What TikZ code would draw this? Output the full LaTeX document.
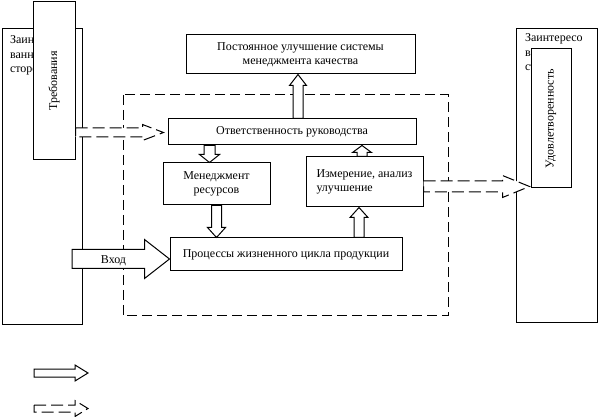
\documentclass[tikz,border=0pt]{standalone}
\usepackage{fontspec}
\setmainfont{Liberation Serif}
\usepackage{graphicx}
\usetikzlibrary{calc}

% block arrow: [style]{tail}{tip}{half shaft}{half head}{head length}
\newcommand{\blockarrow}[6][]{%
  \coordinate (ba-t) at (#2);
  \coordinate (ba-h) at (#3);
  \coordinate (ba-b) at ($(ba-h)!#6!(ba-t)$);
  \draw[arrowbody,#1]
    ($(ba-t)!#4!90:(ba-h)$) -- ($(ba-b)!#4!90:(ba-h)$) --
    ($(ba-b)!#5!90:(ba-h)$) -- (ba-h) --
    ($(ba-b)!#5!-90:(ba-h)$) -- ($(ba-b)!#4!-90:(ba-h)$) --
    ($(ba-t)!#4!-90:(ba-h)$) -- cycle;
}

\begin{document}
\begin{tikzpicture}[
  x=1pt, y=-1pt,
  font=\fontsize{12}{14.5}\selectfont,
  line width=1pt,
  box/.style={draw, fill=white, inner sep=2pt, align=center},
  frame/.style={draw, dash pattern=on 10pt off 5pt},
  arrowbody/.style={draw, fill=white, line join=miter},
  dasharrow/.style={dash pattern=on 12pt off 5pt}
]
\useasboundingbox (0,0) rectangle (598,417);

% interested parties, left
\node[box, minimum width=80pt, minimum height=296pt] (stakeL) at (42,177) {};
\node[anchor=north west, align=left, inner sep=0pt] (stakeLtext)
  at ($(stakeL.north west)+(8,7)$) {Заинтересо\\ванные\\стороны};
\node[box, minimum width=42pt, minimum height=158pt] (req) at (54,81)
  {\rotatebox{90}{Требования}};

% interested parties, right
\node[box, minimum width=81pt, minimum height=294pt] (stakeR) at (556.5,176) {};
\node[anchor=north west, align=left, inner sep=0pt] (stakeRtext)
  at ($(stakeR.north west)+(9,5)$) {Заинтересо\\ванные\\стороны};
\node[box, minimum width=40pt, minimum height=139pt] (sat) at (551,118.5)
  {\rotatebox{90}{Удовлетворенность}};

% quality management system
\draw[frame] (123,95) rectangle (448,316);

\node[box, minimum width=229pt, minimum height=39pt] (improve) at (300.5,54.5)
  {Постоянное улучшение системы\\менеджмента качества};
\node[box, minimum width=248pt, minimum height=26pt] (resp) at (292,132)
  {Ответственность руководства};
\node[box, minimum width=107pt, minimum height=42pt] (resources) at (216.5,184)
  {Менеджмент\\ресурсов};
\node[box, minimum width=117pt, minimum height=50pt, align=left] (measure) at (364.5,182)
  {Измерение, анализ\\улучшение};
\node[box, minimum width=232pt, minimum height=33pt] (process) at (286,254.5)
  {Процессы жизненного цикла продукции};

% block arrows
\coordinate (respup) at ($(resp.north)+(6,0)$);
\blockarrow{respup}{respup |- improve.south}{5pt}{8.5pt}{11pt}
\coordinate (resdown) at ($(resources.north)+(-7,0)$);
\blockarrow{resdown |- resp.south}{resdown}{5.5pt}{10pt}{8pt}
\blockarrow{resources.south}{resources.south |- process.north}{5pt}{9pt}{10pt}
\coordinate (measup) at ($(measure.north)+(-2.5,0)$);
\blockarrow{measup}{measup |- resp.south}{5pt}{9.5pt}{7pt}
\coordinate (procup) at ($(measure.south)+(-5.5,0)$);
\blockarrow{procup |- process.north}{procup}{5pt}{9pt}{10pt}

\coordinate (intail) at (72,259);
\blockarrow{intail}{intail -| process.west}{9.5pt}{19.5pt}{25pt}
\node (inlabel) at (113.5,261) {Вход};

% information flow
\coordinate (reqtip) at ($(resp.west)+(-4,0.5)$);
\blockarrow[dasharrow]{req.east |- reqtip}{reqtip}{4.5pt}{8pt}{21pt}
\coordinate (sattip) at ($(sat.south west)+(-1,-2)$);
\blockarrow[dasharrow]{measure.east |- sattip}{sattip}{5.5pt}{11pt}{27pt}

% key
\coordinate (key1a) at (34,373);
\coordinate (key1b) at (88,373);
\blockarrow{key1a}{key1b}{4pt}{8pt}{13pt}
\coordinate (key2a) at (34,408.5);
\coordinate (key2b) at (88,408.5);
\blockarrow[dasharrow]{key2a}{key2b}{3.5pt}{8pt}{13pt}
\end{tikzpicture}
\end{document}
